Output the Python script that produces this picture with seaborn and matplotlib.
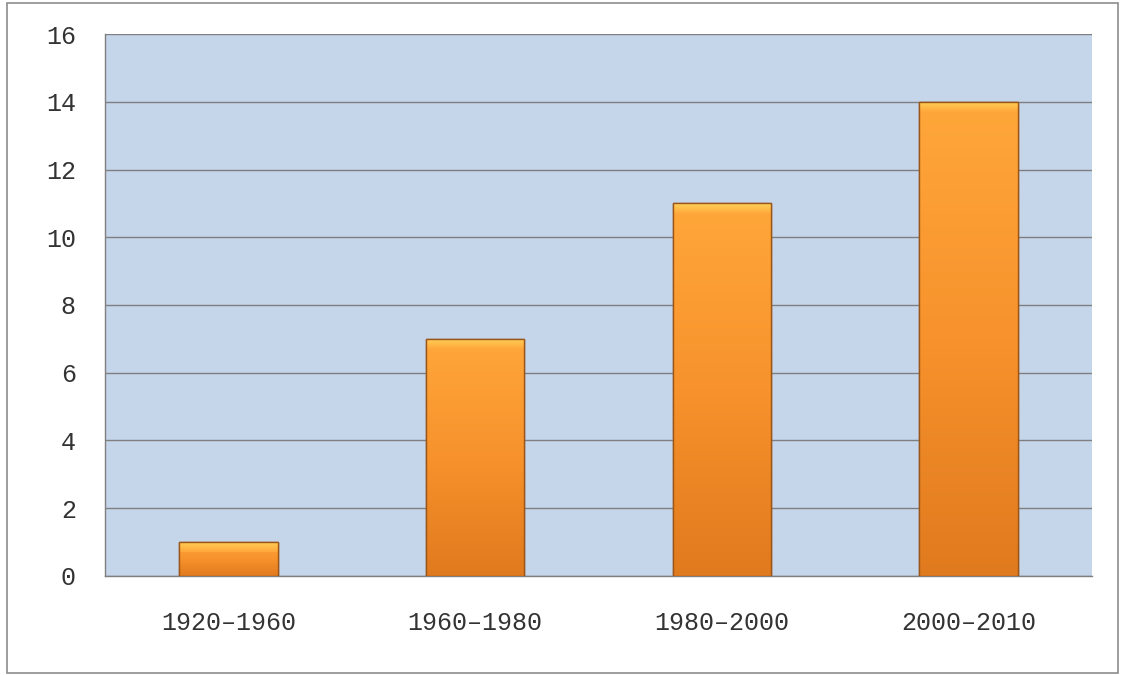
import numpy as np
import pandas as pd
import seaborn as sns
import matplotlib.pyplot as plt
from matplotlib.patches import Rectangle

periods = ["1920–1960", "1960–1980", "1980–2000", "2000–2010"]
counts = [1, 7, 11, 14]
y_ticks = [0, 2, 4, 6, 8, 10, 12, 14, 16]

df = pd.DataFrame({"period": periods, "count": counts})

sns.set_style("white")
plt.rcParams["font.family"] = ["Liberation Mono", "DejaVu Sans Mono"]

fig = plt.figure(figsize=(11.25, 6.75), dpi=100)
ax = fig.add_axes([0.0933, 0.1467, 0.8774, 0.8029])

sns.barplot(data=df, x="period", y="count", color="#F18A22", width=0.4,
            edgecolor="#9A5518", linewidth=1.0, saturation=1, ax=ax, zorder=3)

# vertical gradient inside each bar
grad = np.linspace(0, 1, 256).reshape(-1, 1)
cmap = plt.matplotlib.colors.LinearSegmentedColormap.from_list(
    "bar", ["#E07A1E", "#F7922C", "#FFA73A"])
bevel = np.linspace(0, 1, 64).reshape(-1, 1)
bevel_cmap = plt.matplotlib.colors.LinearSegmentedColormap.from_list(
    "bevel", ["#FFA73A", "#FFD25A"])
for p in ax.patches:
    x0, y0 = p.get_x(), p.get_y()
    w, h = p.get_width(), p.get_height()
    im = ax.imshow(grad, cmap=cmap, aspect="auto", origin="lower",
                   extent=(x0, x0 + w, y0, y0 + h), zorder=3.5)
    im.set_clip_path(p)
    # soft light bevel at the top
    bv = ax.imshow(bevel, cmap=bevel_cmap, aspect="auto", origin="lower",
                   extent=(x0, x0 + w, y0 + h - 0.3, y0 + h), zorder=3.6)
    bv.set_clip_path(p)
    ax.add_patch(Rectangle((x0, y0), w, h, facecolor="none",
                           edgecolor="#9A5518", linewidth=1.0, zorder=3.7))

ax.set_xlim(-0.5, len(periods) - 0.5)
ax.set_ylim(0, 16)
ax.set_yticks(y_ticks)
ax.set_facecolor("#C5D5EA")
ax.grid(axis="y", color="#7F7F7F", linewidth=1.0, zorder=1)
ax.set_axisbelow(True)

ax.set_xlabel("")
ax.set_ylabel("")
ax.set_xticks(range(len(periods)))
ax.set_xticklabels(periods)
ax.set_xticks(np.arange(-0.5, len(periods)), minor=True)
ax.tick_params(axis="x", which="major", length=0, pad=25, labelsize=18,
               colors="#333333")
ax.tick_params(axis="x", which="minor", length=7, width=1, color="#7F7F7F",
               direction="out")
ax.tick_params(axis="y", length=7, width=1, color="#7F7F7F", pad=14,
               labelsize=18, labelcolor="#333333", direction="out")

for side in ["top", "right"]:
    ax.spines[side].set_visible(False)
for side in ["left", "bottom"]:
    ax.spines[side].set_color("#7F7F7F")
    ax.spines[side].set_linewidth(1.0)

fig.patches.append(Rectangle((0.006, 0.003), 0.988, 0.992, transform=fig.transFigure,
                             facecolor="none", edgecolor="#8C8C8C", linewidth=1.2))

fig.savefig("out.png", dpi=100)
